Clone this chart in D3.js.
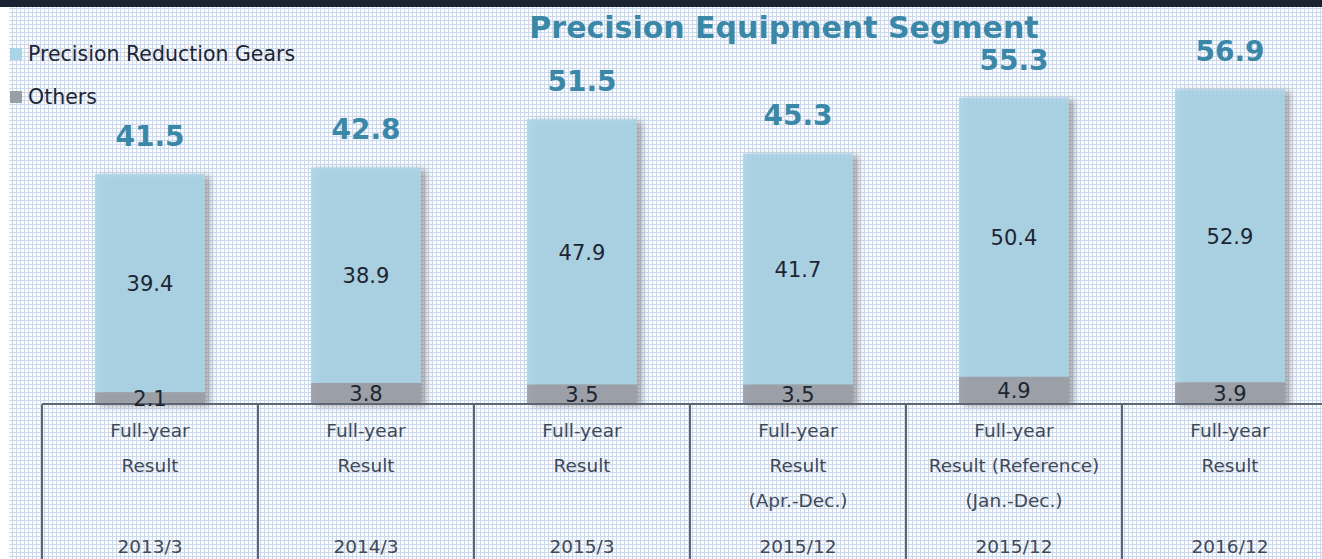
<!DOCTYPE html>
<html><head><meta charset="utf-8">
<script src="https://cdn.jsdelivr.net/npm/d3@7"></script>
<style>html,body{margin:0;padding:0;background:#fff;}svg{display:block;}</style>
</head><body>
<svg id="c" width="1322" height="559"></svg>
<script>
const categories = ["2013/3","2014/3","2015/3","2015/12","2015/12 (Ref)","2016/12"];
const gears = [39.4, 38.9, 47.9, 41.7, 50.4, 52.9];
const others = [2.1, 3.8, 3.5, 3.5, 4.9, 3.9];
const totals = [41.5, 42.8, 51.5, 45.3, 55.3, 56.9];
const line1 = ["Full-year","Full-year","Full-year","Full-year","Full-year","Full-year"];
const line2 = ["Result","Result","Result","Result","Result (Reference)","Result"];
const line3 = ["","","","(Apr.-Dec.)","(Jan.-Dec.)",""];
const years = ["2013/3","2014/3","2015/3","2015/12","2015/12","2016/12"];
const seriesNames = ["Precision Reduction Gears","Others"];

const W = 1322, H = 559;
const svg = d3.select("#c");
const defs = svg.append("defs");
const pat = defs.append("pattern").attr("id","grid").attr("width",4).attr("height",4).attr("patternUnits","userSpaceOnUse");
pat.append("rect").attr("width",4).attr("height",4).attr("fill","#fbfcfe");
pat.append("rect").attr("x",0).attr("y",0).attr("width",1).attr("height",4).attr("fill","#cad9f0");
pat.append("rect").attr("x",0).attr("y",0).attr("width",4).attr("height",1).attr("fill","#cad9f0");
const f = defs.append("filter").attr("id","sh").attr("x","-20%").attr("y","-20%").attr("width","140%").attr("height","140%");
f.append("feDropShadow").attr("dx",5).attr("dy",2).attr("stdDeviation",3).attr("flood-color","#555").attr("flood-opacity",0.55);

svg.append("rect").attr("width",W).attr("height",H).attr("fill","url(#grid)");
svg.append("rect").attr("x",0).attr("y",7).attr("width",9).attr("height",H).attr("fill","#fff");
svg.append("rect").attr("x",0).attr("y",0).attr("width",W).attr("height",7).attr("fill","#1b2332");

const x = d3.scaleBand().domain(categories).range([42, 42 + 216*6]).paddingInner(0.491).paddingOuter(0.2455);
const y = d3.scaleLinear().domain([0, 60]).range([404, 71.6]);
const font = "Verdana, 'DejaVu Sans', sans-serif";

// title
svg.append("text").attr("x",784).attr("y",38).attr("text-anchor","middle")
  .attr("font-family",font).attr("font-weight","bold").attr("font-size",30)
  .attr("fill","#3a87a8").text("Precision Equipment Segment");

// legend
const legColors = ["#a9d3e6","#9a9ea6"];
const legY = [54, 97];
seriesNames.forEach((n,i)=>{
  svg.append("rect").attr("x",10).attr("y",legY[i]-6).attr("width",12).attr("height",12).attr("fill",legColors[i]);
  svg.append("text").attr("x",28).attr("y",legY[i]+7).attr("font-family",font).attr("font-size",20.5)
    .attr("fill","#1e2530").text(n);
});

// bars
const g = svg.append("g");
categories.forEach((c,i)=>{
  const bx = x(c), bw = x.bandwidth();
  const grp = g.append("g").attr("filter","url(#sh)");
  grp.append("rect").attr("x",bx).attr("y",y(others[i]+gears[i])).attr("width",bw)
    .attr("height",y(others[i]) - y(others[i]+gears[i])).attr("fill","#a9d3e6").attr("fill-opacity",0.88);
  grp.append("rect").attr("x",bx).attr("y",y(others[i])).attr("width",bw)
    .attr("height",y(0)-y(others[i])).attr("fill","#9a9ea6").attr("fill-opacity",0.92);
});

// table lines
const lc = "#5d6673";
svg.append("line").attr("x1",42).attr("x2",W).attr("y1",404).attr("y2",404).attr("stroke",lc).attr("stroke-width",2);
categories.forEach((c,i)=>{
  const lx = x(c) - x.step()*x.paddingOuter();
  svg.append("line").attr("x1",lx).attr("x2",lx).attr("y1",404).attr("y2",H).attr("stroke",lc).attr("stroke-width",2);
});

// value labels
categories.forEach((c,i)=>{
  const cx = x(c) + x.bandwidth()/2;
  svg.append("text").attr("x",cx).attr("y",(y(others[i]+gears[i]) + y(others[i]))/2 + 8)
    .attr("text-anchor","middle").attr("font-family",font).attr("font-size",21).attr("fill","#1e2530").text(gears[i].toFixed(1));
  svg.append("text").attr("x",cx).attr("y",(y(others[i]) + y(0))/2 + 8)
    .attr("text-anchor","middle").attr("font-family",font).attr("font-size",21).attr("fill","#1e2530").text(others[i].toFixed(1));
  svg.append("text").attr("x",cx).attr("y",y(totals[i]) - 28)
    .attr("text-anchor","middle").attr("font-family",font).attr("font-weight","bold").attr("font-size",28).attr("fill","#3a87a8").text(totals[i].toFixed(1));
  const rows = [line1[i], line2[i], line3[i]];
  rows.forEach((t,j)=>{
    svg.append("text").attr("x",cx).attr("y",437 + j*35).attr("text-anchor","middle")
      .attr("font-family",font).attr("font-size",18.5).attr("fill","#414955").text(t);
  });
  svg.append("text").attr("x",cx).attr("y",553).attr("text-anchor","middle")
    .attr("font-family",font).attr("font-size",18.5).attr("fill","#414955").text(years[i]);
});
</script>
</body></html>
